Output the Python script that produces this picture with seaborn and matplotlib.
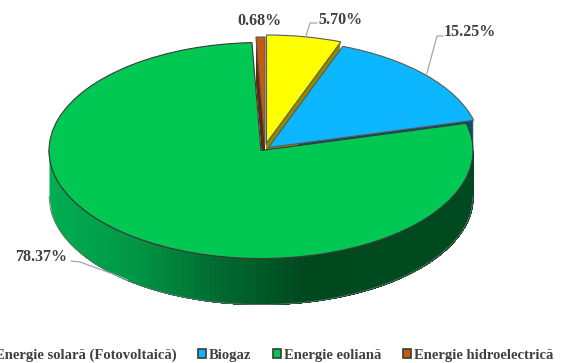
import numpy as np
import matplotlib
matplotlib.use("Agg")
import matplotlib.pyplot as plt
from matplotlib.patches import Patch
from matplotlib.transforms import Affine2D
import seaborn as sns

# ---- data ----
categories = ["Energie solară (Fotovoltaică)", "Biogaz", "Energie eoliană", "Energie hidroelectrică"]
shares = [5.70, 15.25, 78.37, 0.68]
share_labels = ["5.70%", "15.25%", "78.37%", "0.68%"]
top_colors = ["#FFFF00", "#0DB7FF", "#00C853", "#C55A11"]
wall_colors = ["#8F8A00", "#0B4F70", "#005A28", "#5E2A08"]

# ---- layout (pixels of the 565x363 canvas) ----
W, H = 565, 363
CX, CY, RX, RY, DEPTH = 261, 150.5, 212, 108, 46
centers = [(266.5, 143), (268.5, 147.5), (261, 150.5), (265, 145)]
label_pos = [(340, 19.5), (470, 31.5), (41, 257), (259, 21)]
leaders = [[(305.7, 37), (310, 23), (317, 23)],
           [(426.7, 74), (437, 36), (443, 36)],
           [(71, 261), (80, 262), (113, 274), (128, 280)],
           []]

sns.set_theme(style="white")
plt.rcParams["font.family"] = ["Liberation Serif"]
fig = plt.figure(figsize=(W / 100, H / 100), dpi=100)
ax = fig.add_axes([0, 0, 1, 1])
px = Affine2D().scale(1 / W, -1 / H).translate(0, 1) + fig.transFigure


def to_data(x, y):
    return (x - CX) / RX, (CY - y) / RY


fractions = np.array(shares) / sum(shares)
starts = 90 - 360 * np.concatenate([[0], np.cumsum(fractions)[:-1]])


def slice_(i, center, color, z, edge="none"):
    ax.pie([fractions[i]], startangle=starts[i], counterclock=False, normalize=False,
           colors=[color], center=to_data(*center), radius=1,
           wedgeprops=dict(edgecolor=edge, linewidth=0.8, zorder=z))


# extruded bodies of the separated slices
for i in (1, 0, 3):
    for d in range(1, DEPTH + 1, 2):
        slice_(i, (centers[i][0], centers[i][1] + d), wall_colors[i], 1)

# green side wall, shaded from left to right; each band runs on to the right
# end and is overpainted by the next, so that no seams show between bands
xs = np.linspace(-1, 1, 91)
shade = sns.blend_palette(["#00AD50", "#009645", "#006A30", "#00491F", "#004A20", "#004A20"], len(xs) - 1)
dy = DEPTH / RY
for k in range(len(xs) - 1):
    seg = np.linspace(xs[k], 1, 200)
    low = -np.sqrt(np.clip(1 - seg ** 2, 0, None))
    ax.fill_between(seg, low, low - dy, color=shade[k], lw=0, zorder=2)
xx = np.linspace(-1, 1, 300)
yy = -np.sqrt(1 - xx ** 2)
ax.plot(xx, yy, color="#3A3A3A", lw=0.8, zorder=3)
ax.plot(xx, yy - dy, color="#6A6A6A", lw=0.6, zorder=3)

# top faces
slice_(2, centers[2], top_colors[2], 4, edge="#3A3A3A")
for i in (1, 0, 3):
    slice_(i, centers[i], top_colors[i], 5, edge="#5A5A5A")

ax.set_aspect("auto")
x0, _ = to_data(0, 0)
x1, _ = to_data(W, 0)
_, y1 = to_data(0, 0)
_, y0 = to_data(0, H)
ax.set_xlim(x0, x1)
ax.set_ylim(y0, y1)
ax.axis("off")

# percentage labels and leader lines
for text, (tx, ty), line in zip(share_labels, label_pos, leaders):
    ax.text(tx, ty, text, transform=px, ha="center", va="center", fontsize=11.5,
            fontweight="bold", color="#404040", zorder=7)
    if line:
        ax.plot(*zip(*line), transform=px, color="#A6A6A6", lw=0.9, zorder=6)

# legend, running off the left edge as in the source
handles = [Patch(facecolor=c, edgecolor="#3A3A3A", linewidth=1.2) for c in top_colors]
leg = ax.legend(handles, categories, ncol=4, frameon=False, loc="center right",
                bbox_to_anchor=(553 / W, 1 - 355 / H), bbox_transform=fig.transFigure,
                prop=dict(weight="bold", size=10.5), labelcolor="#404040",
                handlelength=0.55, handleheight=0.62, handletextpad=0.2,
                columnspacing=1.47, borderpad=0, borderaxespad=0)

fig.savefig("out.png", dpi=100, facecolor="white")
